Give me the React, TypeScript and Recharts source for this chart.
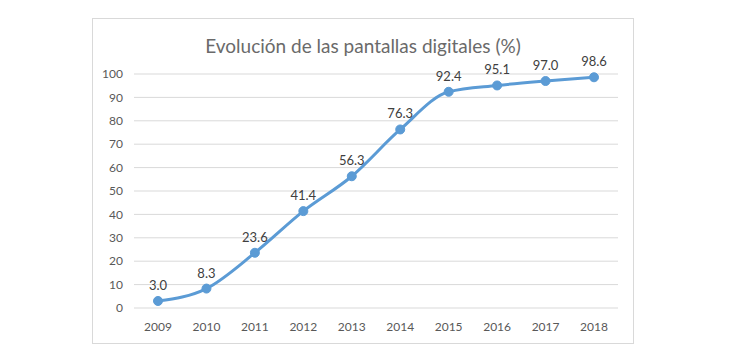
import { CartesianGrid, LabelList, Line, LineChart, XAxis, YAxis } from "recharts";

const years = ["2009", "2010", "2011", "2012", "2013", "2014", "2015", "2016", "2017", "2018"];
const share = [3.0, 8.3, 23.6, 41.4, 56.3, 76.3, 92.4, 95.1, 97.0, 98.6];
const yTicks = [0, 10, 20, 30, 40, 50, 60, 70, 80, 90, 100];

const data = years.map((year, i) => ({ year, value: share[i] }));

const font = "Lato, 'Open Sans', sans-serif";

export default function App() {
  return (
    <div style={{ position: "absolute", left: 0, top: 0, width: 738, height: 360, background: "#fff", fontFamily: font }}>
      <div
        style={{
          position: "absolute",
          left: 92,
          top: 18,
          width: 540,
          height: 324,
          border: "1px solid #d9d9d9",
        }}
      >
        <div
          style={{
            position: "absolute",
            left: 0,
            width: 540,
            top: 15,
            textAlign: "center",
            fontSize: 19,
            color: "#6a6a6a",
          }}
        >
          Evolución de las pantallas digitales (%)
        </div>
        <LineChart width={540} height={324} data={data} margin={{ top: 55, right: 15, bottom: 8, left: 11 }}>
          <CartesianGrid vertical={false} stroke="#d9d9d9" strokeWidth={1} />
          <XAxis
            dataKey="year"
            axisLine={false}
            tickLine={false}
            tickMargin={8}
            height={27}
            padding={{ left: 24, right: 24 }}
            tick={{ fill: "#595959", fontSize: 12, fontFamily: font }}
          />
          <YAxis
            domain={[0, 100]}
            ticks={yTicks}
            axisLine={false}
            tickLine={false}
            tickMargin={5}
            width={30}
            tick={{ fill: "#595959", fontSize: 12, fontFamily: font }}
          />
          <Line
            type="monotone"
            dataKey="value"
            stroke="#5B9BD5"
            strokeWidth={3}
            dot={{ r: 4.5, fill: "#5B9BD5", stroke: "#5B9BD5", strokeWidth: 1 }}
            isAnimationActive={false}
          >
            <LabelList
              dataKey="value"
              position="top"
              offset={11}
              formatter={(v: number) => v.toFixed(1)}
              style={{ fill: "#404040", fontSize: 13, fontFamily: font }}
            />
          </Line>
        </LineChart>
      </div>
    </div>
  );
}
